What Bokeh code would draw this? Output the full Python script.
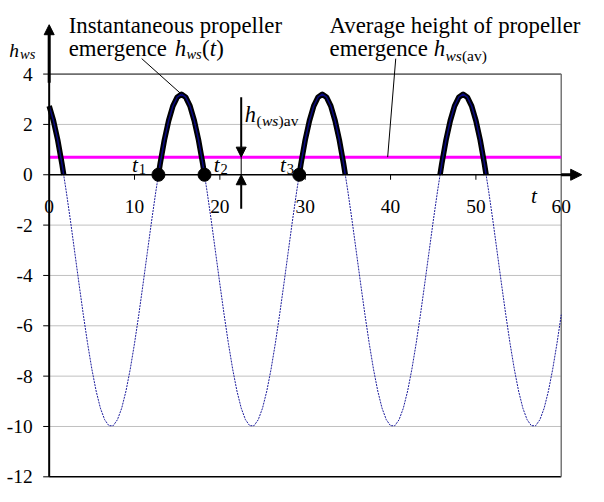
import math
from bokeh.plotting import figure
from bokeh.models import Range1d, Arrow, NormalHead
from bokeh.core.properties import value
from bokeh.embed import file_html
from bokeh.resources import INLINE

# ---------------- data ----------------
t_vals = [
    0.0, 0.5, 1.0, 1.5, 2.0, 2.5, 3.0, 3.5, 4.0, 4.5, 5.0, 5.5, 6.0, 6.5, 7.0,
    7.5, 8.0, 8.5, 9.0, 9.5, 10.0, 10.5, 11.0, 11.5, 12.0, 12.5, 13.0, 13.5, 14.0, 14.5, 15.0,
    15.5,
    16.0, 16.5, 17.0, 17.5, 18.0, 18.5, 19.0, 19.5, 20.0, 20.5, 21.0, 21.5, 22.0, 22.5, 23.0, 23.5,
    24.0, 24.5, 25.0, 25.5, 26.0, 26.5, 27.0, 27.5, 28.0, 28.5, 29.0, 29.5, 30.0, 30.5, 31.0, 31.5,
    32.0,
    32.5, 33.0, 33.5, 34.0, 34.5, 35.0, 35.5, 36.0, 36.5, 37.0, 37.5, 38.0, 38.5, 39.0, 39.5, 40.0,
    40.5, 41.0, 41.5, 42.0, 42.5, 43.0, 43.5, 44.0, 44.5, 45.0, 45.5, 46.0, 46.5, 47.0, 47.5, 48.0,
    48.5,
    49.0, 49.5, 50.0, 50.5, 51.0, 51.5, 52.0, 52.5, 53.0, 53.5, 54.0, 54.5, 55.0, 55.5, 56.0, 56.5,
    57.0, 57.5, 58.0, 58.5, 59.0, 59.5, 60.0,
]
h_vals = [
    2.73, 2.15, 1.38, 0.43, -0.66, -1.84, -3.09, -4.34, -5.56, -6.70, -7.72, -8.59, -9.27, -9.73, -9.97,
    -9.97, -9.73, -9.27, -8.59, -7.72, -6.70, -5.56, -4.34, -3.09, -1.84, -0.66, 0.43, 1.38, 2.15, 2.73, 3.08,
    3.20,
    3.08, 2.73, 2.15, 1.38, 0.43, -0.66, -1.84, -3.09, -4.34, -5.56, -6.70, -7.72, -8.59, -9.27, -9.73, -9.97,
    -9.97, -9.73, -9.27, -8.59, -7.72, -6.70, -5.56, -4.34, -3.09, -1.84, -0.66, 0.43, 1.38, 2.15, 2.73, 3.08,
    3.20,
    3.08, 2.73, 2.15, 1.38, 0.43, -0.66, -1.84, -3.09, -4.34, -5.56, -6.70, -7.72, -8.59, -9.27, -9.73, -9.97,
    -9.97, -9.73, -9.27, -8.59, -7.72, -6.70, -5.56, -4.34, -3.09, -1.84, -0.66, 0.43, 1.38, 2.15, 2.73, 3.08,
    3.20,
    3.08, 2.73, 2.15, 1.38, 0.43, -0.66, -1.84, -3.09, -4.34, -5.56, -6.70, -7.72, -8.59, -9.27, -9.73, -9.97,
    -9.97, -9.73, -9.27, -8.59, -7.72, -6.70, -5.56,
]
cross_t = [1.7, 12.8, 18.2, 29.3, 34.7, 45.8, 51.2]   # zero crossings
marked_t = [12.8, 18.2, 29.3]                         # t1, t2, t3
marked_sub = ["1", "2", "3"]
h_avg = 0.7
peak_t, peak_h = 15.5, 3.20
gap_t = 22.5
y_ticks = [-12, -10, -8, -6, -4, -2, 0, 2, 4]
y_tick_labels = ["-12", "-10", "-8", "-6", "-4", "-2", "0", "2", "4"]
x_ticks = [0, 10, 20, 30, 40, 50, 60]
x_tick_labels = ["0", "10", "20", "30", "40", "50", "60"]
grid_y = [-10, -8, -6, -4, -2, 2]

# ---------------- layout ----------------
W, H = 588, 486
SX, SY = W / 604.0, H / 502.0      # reference layout squeezed into the figure
FS = 0.97                           # font scale


def fx(X):
    return X * SX


def fy(Y):
    return Y * SY


x0_f, x60_f = fx(50), fx(576)
y0_f, y4_f = fy(180), fy(76)
K = (x60_f - x0_f) / 60.0
KY = (y0_f - y4_f) / 4.0
x_start = -x0_f / K
x_end = 60 + (W - x60_f) / K
y_end = y0_f / KY
y_start = -(H - y0_f) / KY


def px(X):  # reference pixel -> data x
    return (fx(X) - x0_f) / K


def py(Y):  # reference pixel -> data y
    return (y0_f - fy(Y)) / KY


def fs(size):
    return f"{size * FS:.1f}px"


SERIF = value("Liberation Serif")

p = figure(width=W, height=H, x_range=Range1d(x_start, x_end), y_range=Range1d(y_start, y_end),
           output_backend="svg", toolbar_location=None, x_axis_type=None, y_axis_type=None,
           min_border=0, outline_line_color=None, background_fill_color="white",
           border_fill_color="white")

xmin, xmax = x_ticks[0], x_ticks[-1]
ymin, ymax = y_ticks[0], y_ticks[-1]

# grid
p.segment(x0=[xmin] * len(grid_y), x1=[xmax] * len(grid_y), y0=grid_y, y1=grid_y,
          line_color="#c0c0c0", line_width=1)
# frame
p.segment(x0=[xmin], x1=[xmax], y0=[ymax], y1=[ymax], line_color="black", line_width=1)
p.segment(x0=[xmin], x1=[xmax], y0=[ymin], y1=[ymin], line_color="black", line_width=1.5)
p.segment(x0=[xmax], x1=[xmax], y0=[ymin], y1=[ymax], line_color="#777777", line_width=1.5)

# ticks
p.ray(x=[xmin] * len(y_ticks), y=y_ticks, length=6, angle=math.pi, length_units="screen",
      line_color="black", line_width=1)
p.ray(x=x_ticks[1:-1], y=[0] * (len(x_ticks) - 2), length=5, angle=-math.pi / 2,
      length_units="screen", line_color="black", line_width=1)

# tick labels
p.text(x=[xmin] * len(y_ticks), y=y_ticks, text=y_tick_labels, x_offset=-16.5,
       text_align="right", text_baseline="middle", text_font=SERIF, text_font_size=fs(20),
       text_color="black")
p.text(x=x_ticks, y=[0] * len(x_ticks), text=x_tick_labels, y_offset=32,
       text_align="center", text_baseline="alphabetic", text_font=SERIF, text_font_size=fs(20),
       text_color="black")

# average height line
p.line([xmin, xmax], [h_avg, h_avg], line_color="#ff00ff", line_width=3)

# full curve (dotted)
p.line(t_vals, h_vals, line_color="#1c1c9c", line_width=1, line_dash="2 1")

# emerged parts (thick)
pts = sorted(list(zip(t_vals, h_vals)) + [(c, 0.0) for c in cross_t])
thick_t = [a for a, b in pts]
thick_h = [b if b >= 0 else float("nan") for a, b in pts]
p.line(thick_t, thick_h, line_color="black", line_width=5.5, line_join="round")
p.line(thick_t, thick_h, line_color="#0a0a80", line_width=1.5, line_join="round")

# x axis line and arrow
p.add_layout(Arrow(x_start=xmin, y_start=0, x_end=px(597), y_end=0, line_width=1.5,
                   line_color="black",
                   end=NormalHead(size=11, fill_color="black", line_color="black")))
p.segment(x0=[xmax], x1=[px(587)], y0=[0], y1=[0], line_color="black", line_width=3)
# y axis line and arrow
p.add_layout(Arrow(x_start=0, y_start=ymin, x_end=0, y_end=py(25), line_width=2,
                   line_color="black",
                   end=NormalHead(size=10, fill_color="black", line_color="black")))
p.segment(x0=[0], x1=[0], y0=[py(85)], y1=[py(33)], line_color="black", line_width=3)

# points t1..t3
p.scatter(x=marked_t, y=[0] * len(marked_t), size=13, marker="circle",
          fill_color="black", line_color="black")

# average-height dimension arrows
p.segment(x0=[gap_t], x1=[gap_t], y0=[0], y1=[h_avg], line_color="black", line_width=1)
p.add_layout(Arrow(x_start=gap_t, y_start=py(100), x_end=gap_t, y_end=h_avg, line_width=2,
                   line_color="black",
                   end=NormalHead(size=10, fill_color="black", line_color="black")))
p.add_layout(Arrow(x_start=gap_t, y_start=py(215), x_end=gap_t, y_end=0, line_width=2,
                   line_color="black",
                   end=NormalHead(size=10, fill_color="black", line_color="black")))

# leader lines
p.segment(x0=[px(145)], y0=[py(60)], x1=[peak_t], y1=[peak_h], line_color="black", line_width=1)
p.segment(x0=[px(406)], y0=[py(60)], x1=[px(397.7)], y1=[h_avg], line_color="black", line_width=1)


def txt(X, Y, s, size, style="normal"):
    p.text(x=[px(X)], y=[py(Y)], text=[s], text_font=SERIF, text_font_size=fs(size),
           text_font_style=style, text_baseline="alphabetic", text_align="left",
           text_color="black")


# annotation 1
txt(70, 26, "Instantaneous propeller", 23.5)
txt(70, 50, "emergence", 23.5)
txt(179, 50, "h", 23.5, "italic")
txt(191, 55, "ws", 15, "italic")
txt(207, 50, "(", 23.5)
txt(215, 50, "t", 23.5, "italic")
txt(221.5, 50, ")", 23.5)

# annotation 2
txt(338, 26, "Average height of propeller", 23.5)
txt(338, 50, "emergence", 23.5)
txt(445, 50, "h", 23.5, "italic")
txt(457, 57, "ws", 16, "italic")
txt(474, 57, "(av)", 16)

# y axis title
txt(9, 52, "h", 20, "italic")
txt(20, 55, "ws", 15, "italic")

# h(ws)av label
txt(251, 118, "h", 23, "italic")
txt(263, 124, "(", 16)
txt(268.5, 124, "ws", 16, "italic")
txt(285.5, 124, ")", 16)
txt(291, 124, "av", 16)

# t labels
for X, sub in zip([135, 219, 287], marked_sub):
    txt(X, 170, "t", 22, "italic")
    txt(X + 7, 174, sub, 15)

# t axis label
txt(545, 202, "t", 22, "italic")

open("out.html", "w").write(file_html(p, INLINE))
